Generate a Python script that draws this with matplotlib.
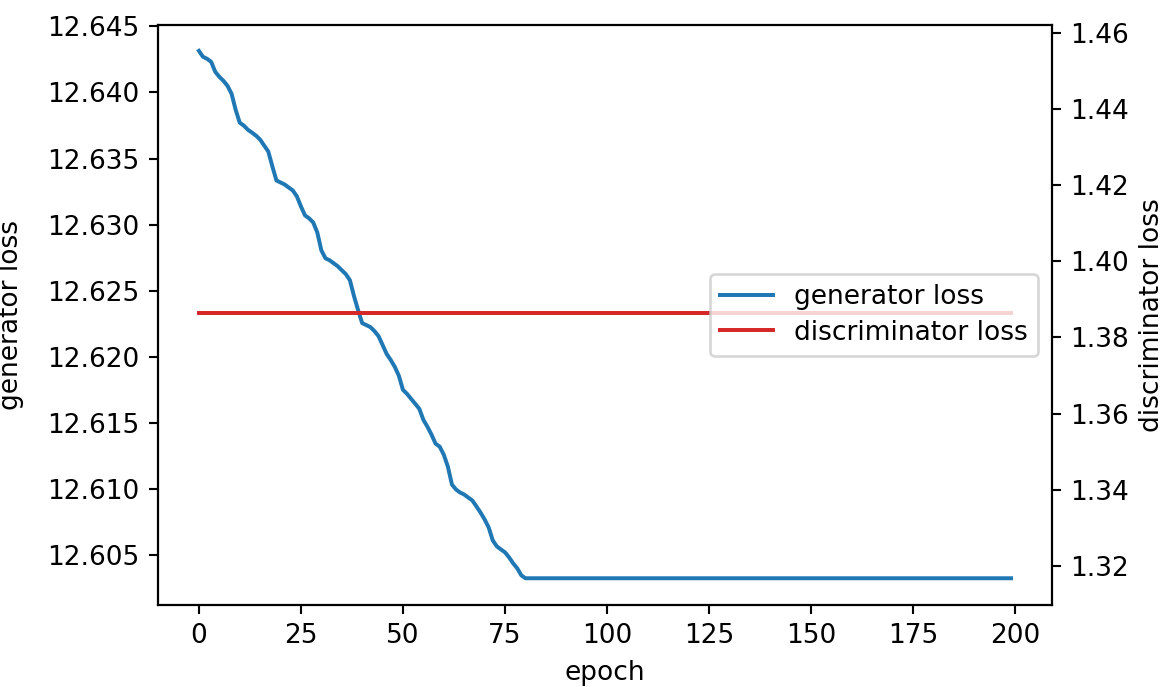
import matplotlib
matplotlib.use("Agg")
import matplotlib.pyplot as plt

# generator loss, one value per epoch 0..80, then flat to 199
gen_epochs = list(range(81)) + [199]
gen_loss = [
    12.64314, 12.64269, 12.64254, 12.64231, 12.64156, 12.64118, 12.64088, 12.64050,
    12.63990, 12.63869, 12.63771, 12.63749, 12.63718, 12.63696, 12.63673, 12.63643,
    12.63598, 12.63553, 12.63440, 12.63334, 12.63319, 12.63304, 12.63281, 12.63259,
    12.63214, 12.63138, 12.63070, 12.63048, 12.63017, 12.62942, 12.62806, 12.62746,
    12.62731, 12.62709, 12.62686, 12.62656, 12.62626, 12.62580, 12.62460, 12.62354,
    12.62256, 12.62241, 12.62226, 12.62196, 12.62158, 12.62091, 12.62023, 12.61977,
    12.61925, 12.61857, 12.61751, 12.61721, 12.61683, 12.61646, 12.61608, 12.61525,
    12.61472, 12.61412, 12.61344, 12.61322, 12.61261, 12.61171, 12.61035, 12.60998,
    12.60975, 12.60960, 12.60937, 12.60915, 12.60870, 12.60824, 12.60772, 12.60711,
    12.60613, 12.60568, 12.60545, 12.60523, 12.60485, 12.60440, 12.60402, 12.60349,
    12.60327, 12.60327,
]

disc_epochs = [0, 199]
disc_loss = [1.3863, 1.3863]

DPI = 190
fig = plt.figure(figsize=(1164 / DPI, 687 / DPI), dpi=DPI)
ax1 = fig.add_axes([0.1360, 0.1194, 0.7675, 0.8443])
ax2 = ax1.twinx()

l1, = ax1.plot(gen_epochs, gen_loss, color="tab:blue", label="generator loss")
l2, = ax2.plot(disc_epochs, disc_loss, color="tab:red", label="discriminator loss")

ax1.set_xlim(-9.95, 208.95)
ax1.set_xticks([0, 25, 50, 75, 100, 125, 150, 175, 200])
ax1.set_ylim(12.60125, 12.64510)
ax1.set_yticks([12.605, 12.610, 12.615, 12.620, 12.625, 12.630, 12.635, 12.640, 12.645])
ax1.set_yticklabels(["12.605", "12.610", "12.615", "12.620", "12.625",
                     "12.630", "12.635", "12.640", "12.645"])
ax2.set_ylim(1.3098, 1.4620)
ax2.set_yticks([1.32, 1.34, 1.36, 1.38, 1.40, 1.42, 1.44, 1.46])

ax1.set_xlabel("epoch")
# the original crops the left label partly off the figure edge
ax1.set_ylabel("generator loss", labelpad=9)
ax2.set_ylabel("discriminator loss")

ax2.legend(handles=[l1, l2], loc="center right", labelspacing=0.35)

fig.savefig("out.png", dpi=DPI)
